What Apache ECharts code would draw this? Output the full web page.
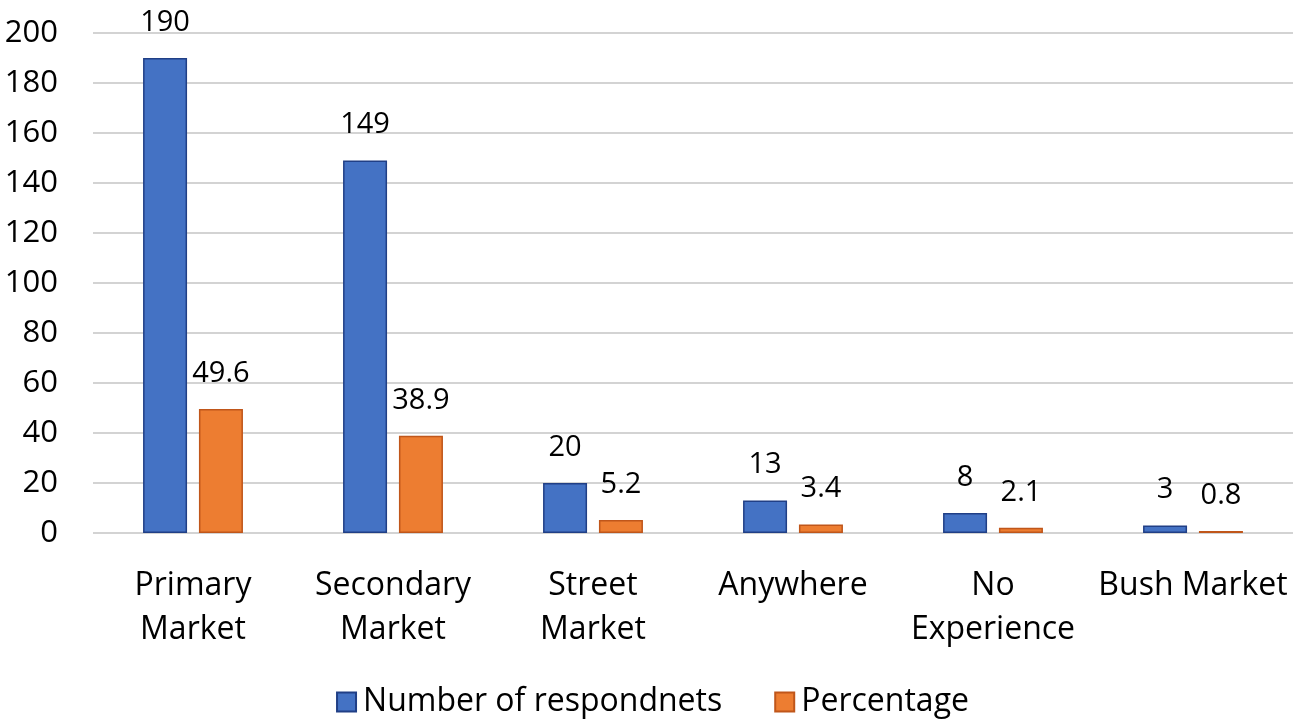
<!DOCTYPE html>
<html>
<head>
<meta charset="utf-8">
<script src="https://cdn.jsdelivr.net/npm/echarts@6/dist/echarts.min.js"></script>
<style>html,body{margin:0;padding:0;background:#fff;}#c{width:1305px;height:726px;}</style>
</head>
<body>
<div id="c"></div>
<script>
const categories = ["Primary\nMarket", "Secondary\nMarket", "Street\nMarket", "Anywhere", "No\nExperience", "Bush Market"];
const respondents = [190, 149, 20, 13, 8, 3];
const percentage = [49.6, 38.9, 5.2, 3.4, 2.1, 0.8];
const yTicks = { min: 0, max: 200, interval: 20 };

const FONT = '"Open Sans", Lato, sans-serif';
const chart = echarts.init(document.getElementById('c'));
chart.setOption({
  animation: false,
  textStyle: { fontFamily: FONT },
  grid: { left: 93, right: 12, top: 33, bottom: 193 },
  legend: {
    bottom: 3,
    left: 'center',
    itemWidth: 19,
    itemHeight: 19,
    itemGap: 52,
    icon: 'rect',
    textStyle: { fontSize: 32, color: '#000', fontFamily: FONT, padding: [0, 0, 0, 2] },
    data: ['Number of respondnets', 'Percentage']
  },
  xAxis: {
    type: 'category',
    data: categories,
    axisLine: { show: false },
    axisTick: { show: false },
    axisLabel: { fontSize: 32, color: '#000', lineHeight: 44, margin: 31, interval: 0, fontFamily: FONT }
  },
  yAxis: {
    type: 'value',
    min: yTicks.min, max: yTicks.max, interval: yTicks.interval,
    axisLine: { show: false },
    axisTick: { show: false },
    axisLabel: { fontSize: 31, color: '#000', margin: 35, fontFamily: FONT },
    splitLine: { lineStyle: { color: '#c4c4c4', width: 1.5 } }
  },
  series: [
    {
      name: 'Number of respondnets',
      type: 'bar',
      data: respondents,
      barWidth: 44,
      barGap: '27%',
      itemStyle: { color: '#4472C4', borderColor: '#203f86', borderWidth: 1.5 },
      label: { show: true, position: 'top', distance: 21, fontSize: 29, color: '#000', fontFamily: FONT }
    },
    {
      name: 'Percentage',
      type: 'bar',
      data: percentage,
      barWidth: 44,
      itemStyle: { color: '#ED7D31', borderColor: '#c0561a', borderWidth: 1.5 },
      label: { show: true, position: 'top', distance: 21, fontSize: 29, color: '#000', fontFamily: FONT }
    }
  ]
});
</script>
</body>
</html>
